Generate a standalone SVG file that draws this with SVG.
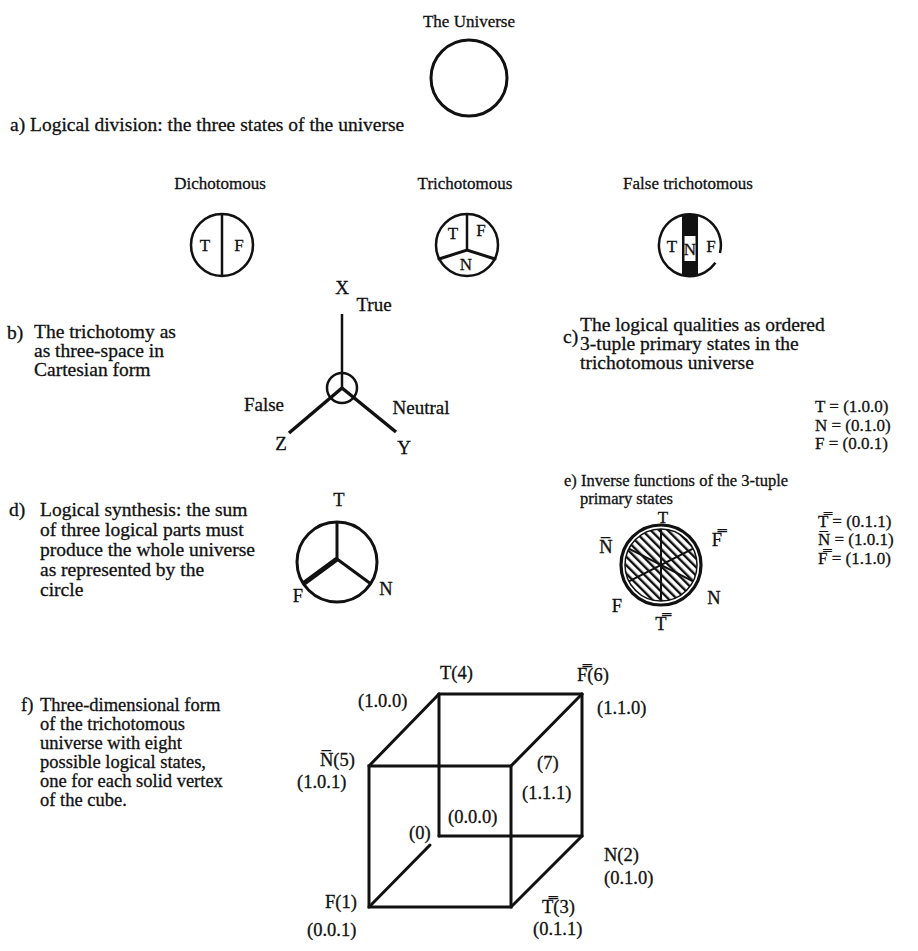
<svg xmlns="http://www.w3.org/2000/svg" width="918" height="951" viewBox="0 0 918 951">
<style>
  text { font-family: "Liberation Serif", "Times New Roman", serif; fill: #111; stroke: #111; stroke-width: 0.3; }
  .h { font-size: 17px; }
  .d { font-size: 19.5px; }
  .e { font-size: 16.5px; }
  .f { font-size: 18.5px; }
  .l { font-size: 17px; }
  .a { font-size: 19px; }
  .c { font-size: 18.5px; }
  .q { font-size: 17px; }
  .m { text-anchor: middle; }
  .s { fill: none; stroke: #111; stroke-width: 2.5; }
  .k { fill: none; stroke: #111; stroke-width: 3; stroke-linecap: round; }
</style>
<defs>
  <pattern id="hatch" patternUnits="userSpaceOnUse" width="6" height="6" patternTransform="rotate(-45)">
    <rect x="0" y="0" width="2.4" height="6" fill="#111"/>
  </pattern>
  <clipPath id="clipFT"><circle cx="690" cy="245" r="31"/></clipPath>
  <clipPath id="clipE"><circle cx="661" cy="565" r="36"/></clipPath>
</defs>
<rect width="918" height="951" fill="#fff"/>

<g id="universe">
  <text class="h m" x="469" y="27">The Universe</text>
  <circle class="k" cx="469" cy="78" r="38"/>
</g>
<g id="label-a">
  <text class="d" x="10" y="131">a) Logical division: the three states of the universe</text>
</g>

<g id="dichotomous">
  <text class="h m" x="220" y="189">Dichotomous</text>
  <circle class="s" cx="222" cy="245" r="31"/>
  <line class="s" x1="222" y1="214" x2="222" y2="276"/>
  <text class="l m" x="205" y="251">T</text>
  <text class="l m" x="239" y="251">F</text>
</g>

<g id="trichotomous">
  <text class="h m" x="465" y="189">Trichotomous</text>
  <circle class="s" cx="467" cy="245" r="31"/>
  <polyline class="s" points="467,214 467,250"/>
  <polyline class="k" points="439,259 467,250 495,259"/>
  <text class="l m" x="453" y="239">T</text>
  <text class="l m" x="481" y="236">F</text>
  <text class="l m" x="466" y="270">N</text>
</g>

<g id="false-trichotomous">
  <text class="h m" x="688" y="189">False trichotomous</text>
  <rect x="682" y="212" width="16" height="66" fill="#111" clip-path="url(#clipFT)"/>
  <rect x="684.5" y="236" width="11" height="25" fill="#fff"/>
  <path class="s" d="M 715.4 262.8 A 31 31 0 1 1 719.9 253"/>
  <text class="l m" x="672" y="252">T</text>
  <text class="l m" x="690" y="255">N</text>
  <text class="l m" x="711" y="252">F</text>
</g>

<g id="axes">
  <line x1="342" y1="314" x2="342" y2="388" stroke="#111" stroke-width="2.5"/>
  <circle class="s" cx="342" cy="388" r="15"/>
  <line x1="342" y1="388" x2="289" y2="433" stroke="#111" stroke-width="3.5"/>
  <line x1="342" y1="388" x2="396" y2="432" stroke="#111" stroke-width="3.5"/>
  <text class="a m" x="342" y="294">X</text>
  <text class="a m" x="374" y="311">True</text>
  <text class="a m" x="264" y="411">False</text>
  <text class="a m" x="421" y="414">Neutral</text>
  <text class="a m" x="281" y="450">Z</text>
  <text class="a m" x="404" y="454">Y</text>
</g>

<g id="label-b">
  <text class="d" x="7" y="339">b)</text>
  <text class="d" x="34" y="338">The trichotomy as</text>
  <text class="d" x="34" y="357">as three-space in</text>
  <text class="d" x="34" y="376">Cartesian form</text>
</g>

<g id="label-c">
  <text class="d" x="563" y="343">c)</text>
  <text class="d" x="580" y="331">The logical qualities as ordered</text>
  <text class="d" x="580" y="350">3-tuple primary states in the</text>
  <text class="d" x="580" y="369">trichotomous universe</text>
</g>

<g id="primary-states">
  <text class="q" x="815" y="412">T = (1.0.0)</text>
  <text class="q" x="815" y="430.5">N = (0.1.0)</text>
  <text class="q" x="815" y="449">F = (0.0.1)</text>
</g>

<g id="label-d">
  <text class="d" x="9" y="516">d)</text>
  <text class="d" x="40" y="516">Logical synthesis: the sum</text>
  <text class="d" x="40" y="536">of three logical parts must</text>
  <text class="d" x="40" y="556">produce the whole universe</text>
  <text class="d" x="40" y="576">as represented by the</text>
  <text class="d" x="40" y="596">circle</text>
</g>

<g id="synthesis">
  <circle class="k" cx="337" cy="562" r="40"/>
  <line x1="337" y1="522" x2="337" y2="559" stroke="#111" stroke-width="3"/>
  <line x1="337" y1="559" x2="303" y2="584" stroke="#111" stroke-width="5"/>
  <line x1="337" y1="559" x2="371" y2="584" stroke="#111" stroke-width="3"/>
  <text class="c m" x="339" y="506">T</text>
  <text class="c m" x="298" y="602">F</text>
  <text class="c m" x="386" y="595">N</text>
</g>

<g id="label-e">
  <text class="e" x="564" y="485.5">e) Inverse functions of the 3-tuple</text>
  <text class="e" x="580" y="504">primary states</text>
</g>

<g id="inverse">
  <circle cx="661" cy="565" r="36" fill="url(#hatch)"/>
  <circle cx="661" cy="565" r="36" fill="none" stroke="#111" stroke-width="1.5"/>
  <circle cx="661" cy="565" r="40" fill="none" stroke="#111" stroke-width="3.2"/>
  <g clip-path="url(#clipE)" stroke="#111" stroke-width="2">
    <line x1="661" y1="524" x2="661" y2="606"/>
    <line x1="624" y1="546" x2="698" y2="584"/>
    <line x1="624" y1="584" x2="698" y2="546"/>
  </g>
  <text class="l m" x="663" y="523">T</text>
  <text class="c m" x="606" y="553">N&#x0305;</text>
  <text class="c m" x="717" y="546">F&#x033F;</text>
  <text class="c m" x="617" y="612">F</text>
  <text class="c m" x="714" y="604">N</text>
  <text class="c m" x="661" y="630">T&#x033F;</text>
</g>

<g id="inverse-states">
  <text class="q" x="818" y="526.5">T&#x033F; = (0.1.1)</text>
  <text class="q" x="818" y="545">N&#x0305; = (1.0.1)</text>
  <text class="q" x="818" y="563.5">F&#x033F; = (1.1.0)</text>
</g>

<g id="label-f">
  <text class="f" x="21" y="711">f)</text>
  <text class="f" x="40" y="711">Three-dimensional form</text>
  <text class="f" x="40" y="730">of the trichotomous</text>
  <text class="f" x="40" y="749">universe with eight</text>
  <text class="f" x="40" y="768">possible logical states,</text>
  <text class="f" x="40" y="787">one for each solid vertex</text>
  <text class="f" x="40" y="806">of the cube.</text>
</g>

<g id="connectors">
  <g class="k">
    <line x1="439" y1="694" x2="582" y2="694"/>
    <line x1="439" y1="694" x2="439" y2="836"/>
    <line x1="439" y1="836" x2="582" y2="836"/>
    <line x1="582" y1="694" x2="582" y2="836"/>
    <rect x="369" y="766" width="142" height="141"/>
    <line x1="369" y1="766" x2="439" y2="694"/>
    <line x1="511" y1="766" x2="582" y2="694"/>
    <line x1="511" y1="907" x2="582" y2="836"/>
    <line x1="369" y1="907" x2="430" y2="845"/>
  </g>
</g>

<g id="vertex-4"><text class="c" x="440" y="679">T(4)</text><text class="c" x="358" y="707">(1.0.0)</text></g>
<g id="vertex-6"><text class="c" x="577" y="681">F&#x033F;(6)</text><text class="c" x="597" y="714">(1.1.0)</text></g>
<g id="vertex-5"><text class="c" x="320" y="766">N&#x0305;(5)</text><text class="c" x="297" y="788">(1.0.1)</text></g>
<g id="vertex-7"><text class="c" x="537" y="769">(7)</text><text class="c" x="522" y="799">(1.1.1)</text></g>
<g id="vertex-0"><text class="c" x="409" y="839">(0)</text><text class="c" x="448" y="823">(0.0.0)</text></g>
<g id="vertex-2"><text class="c" x="604" y="861">N(2)</text><text class="c" x="604" y="884">(0.1.0)</text></g>
<g id="vertex-1"><text class="c" x="325" y="908">F(1)</text><text class="c" x="307" y="936">(0.0.1)</text></g>
<g id="vertex-3"><text class="c" x="542" y="913">T&#x033F;(3)</text><text class="c" x="533" y="935">(0.1.1)</text></g>
</svg>
